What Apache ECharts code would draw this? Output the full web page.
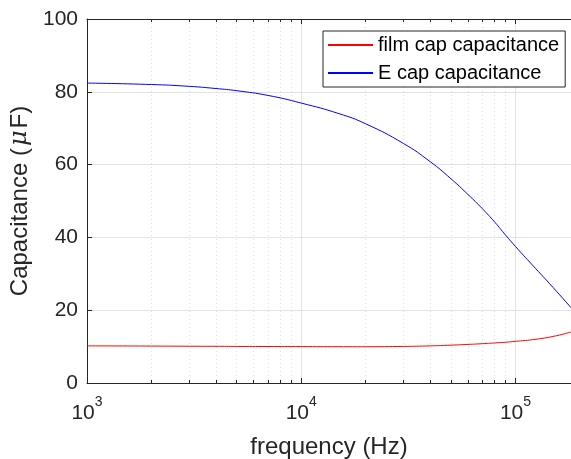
<!DOCTYPE html>
<html>
<head>
<meta charset="utf-8">
<script src="https://cdn.jsdelivr.net/npm/echarts@6/dist/echarts.min.js"></script>
<style>
html,body{margin:0;padding:0;background:#fff;}
#chart{width:571px;height:459px;}
</style>
</head>
<body>
<div id="chart"></div>
<script>
// ---- data ----
const freq    = [1000, 2000, 3000, 4000, 5000, 7000, 10000, 15000, 20000, 30000, 40000, 50000, 60000, 70000, 80000, 90000, 100000, 120000, 150000, 181600];
const eCap    = [82.4, 82.0, 81.5, 80.9, 80.3, 79.0, 76.9, 74.0, 71.2, 65.8, 60.8, 56.1, 51.8, 47.9, 44.2, 40.6, 37.5, 32.4, 26.2, 20.7];
const filmCap = [10.2, 10.15, 10.1, 10.08, 10.05, 10.02, 10.0, 9.97, 9.96, 10.05, 10.2, 10.4, 10.6, 10.8, 11.0, 11.2, 11.45, 11.9, 12.8, 14.0];
const yTicks  = [0, 20, 40, 60, 80, 100];
const seriesNames = ['film cap capacitance', 'E cap capacitance'];

const chart = echarts.init(document.getElementById('chart'), null, {renderer: 'canvas'});
const FONT = 'Liberation Sans, Arial, Helvetica, sans-serif';
const axisColor = '#262626';

const xAxisCommon = {
  type: 'log', logBase: 10, min: 1000, max: 181600,
  axisLine: {show: true, lineStyle: {color: axisColor, width: 1}},
  axisTick: {show: true, inside: true, length: 5, lineStyle: {color: axisColor}},
  minorTick: {show: true, splitNumber: 9, length: 3, lineStyle: {color: axisColor}},
};

chart.setOption({
  animation: false,
  backgroundColor: '#fff',
  grid: {left: 87, top: 19, right: 0, bottom: 76, containLabel: false, outerBoundsMode: 'none'},
  legend: {
    orient: 'vertical', left: 323, top: 31,
    backgroundColor: '#fff', borderColor: axisColor, borderWidth: 1, borderRadius: 0,
    padding: [4, 6, 4, 5], itemGap: 8, itemWidth: 45, itemHeight: 2,
    icon: 'rect',
    textStyle: {fontFamily: FONT, fontSize: 20, color: '#000', lineHeight: 20},
    data: seriesNames
  },
  xAxis: [
    Object.assign({}, xAxisCommon, {
      position: 'bottom',
      name: 'frequency (Hz)', nameLocation: 'middle', nameGap: 52,
      nameTextStyle: {fontFamily: FONT, fontSize: 24, color: axisColor},
      axisLabel: {
        margin: 12, color: axisColor, showMaxLabel: false,
        formatter: v => {
          const e = Math.round(Math.log10(v));
          return Math.abs(Math.pow(10, e) - v) < 1e-6 ? '{b|10}{s|' + e + '}' : '';
        },
        rich: {
          b: {fontFamily: FONT, fontSize: 21, color: axisColor, padding: [8, 0, 0, 0]},
          s: {fontFamily: FONT, fontSize: 14, color: axisColor, verticalAlign: 'top'}
        }
      },
      splitLine: {show: true, lineStyle: {color: '#e3e3e3', width: 1}},
      minorSplitLine: {show: true, lineStyle: {color: '#e0e0e0', type: [1, 3], width: 1}}
    }),
    Object.assign({}, xAxisCommon, {
      position: 'top',
      axisLabel: {show: false},
      splitLine: {show: false},
      minorSplitLine: {show: false}
    })
  ],
  yAxis: {
    type: 'value', min: 0, max: 100, interval: 20,
    name: 'Capacitance ({i|μ}F)', nameLocation: 'middle', nameGap: 49, nameRotate: 90,
    nameTextStyle: {
      fontFamily: FONT, fontSize: 24, color: axisColor,
      rich: {i: {fontFamily: 'DejaVu Serif, serif', fontStyle: 'italic', fontSize: 24, color: axisColor, padding: [0, 2, 0, 2]}}
    },
    axisLine: {show: true, lineStyle: {color: axisColor, width: 1}},
    axisTick: {show: true, inside: true, length: 5, lineStyle: {color: axisColor}},
    axisLabel: {
      margin: 9, color: axisColor, fontFamily: FONT, fontSize: 21,
      formatter: v => yTicks.indexOf(v) >= 0 ? String(v) : ''
    },
    splitLine: {show: true, lineStyle: {color: '#e3e3e3', width: 1}}
  },
  series: [
    {
      name: seriesNames[0], type: 'line', xAxisIndex: 0, showSymbol: false, smooth: 0.5,
      color: '#ff0000', lineStyle: {width: 1, color: '#ff0000'},
      data: freq.map((f, i) => [f, filmCap[i]])
    },
    {
      name: seriesNames[1], type: 'line', xAxisIndex: 0, showSymbol: false, smooth: 0.5,
      color: '#0000ff', lineStyle: {width: 1, color: '#0000ff'},
      data: freq.map((f, i) => [f, eCap[i]])
    }
  ]
});
</script>
</body>
</html>
